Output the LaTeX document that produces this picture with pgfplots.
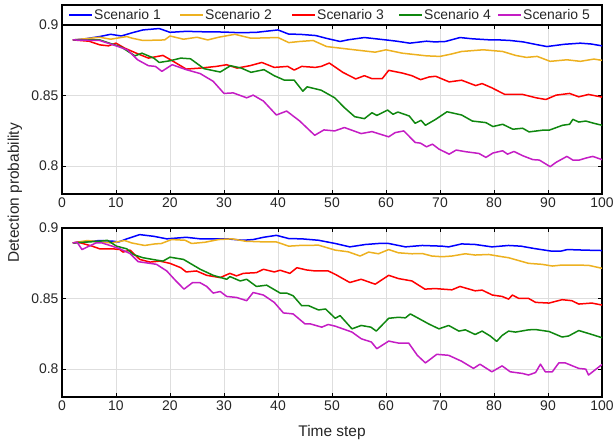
\documentclass[border=0pt]{standalone}
\usepackage{fontspec}
\setmainfont{Liberation Sans}
\usepackage{pgfplots}
\pgfplotsset{compat=1.18}
\definecolor{sOne}{HTML}{0000FF}
\definecolor{sTwo}{HTML}{EDB120}
\definecolor{sThree}{HTML}{FF0000}
\definecolor{sFour}{HTML}{0F870F}
\definecolor{sFive}{HTML}{C41DC4}
\definecolor{tickgray}{HTML}{262626}
\pgfplotsset{
  panel/.style={
    width=540bp, height=169bp, scale only axis,
    xmin=0, xmax=100, ymin=0.78, ymax=0.9,
    xtick={0,10,...,100}, ytick={0.8,0.85,0.9},
    grid=major, major grid style={draw=black!13, line width=0.4bp},
    axis line style={line width=1.3bp},
    tick align=inside, major tick length=4bp,
    tick style={black, line width=0.5bp},
    ticklabel style={font=\fontsize{14}{16}\selectfont, text=tickgray},
    /pgf/number format/assume math mode=true,
    yticklabel style={/pgf/number format/fixed, /pgf/number format/precision=2},
    every axis plot/.append style={line width=1.5bp, mark=none, line join=round},
  }
}
\begin{document}
\begin{tikzpicture}
\useasboundingbox (0,0) rectangle (613bp,-447bp);
% top panel
\begin{axis}[panel, at={(62bp,-194bp)}, anchor=south west]
\addplot[draw=sOne] coordinates {(2,.8894)(4,.8900)(7,.8918)(9,.8934)(11,.8922)(13,.8945)(15,.8965)(18,.8975)(20,.8948)(23,.8955)(26,.8952)(30,.8950)(33,.8945)(36,.8948)(40,.8965)(42,.8935)(44,.8934)(47,.8925)(49,.8905)(51.5,.8883)(53,.8895)(56,.8911)(60,.8894)(62,.8885)(64.4,.8871)(67.5,.8885)(69,.8880)(71,.8883)(73.7,.8911)(76,.8902)(79,.8895)(81,.8894)(83,.8890)(85.4,.8880)(88,.8860)(89.8,.8847)(93,.8863)(96,.8871)(98,.8865)(100,.8852)};
\addplot[draw=sTwo] coordinates {(2,.8894)(5,.8905)(7,.8913)(9,.8899)(12,.8918)(13,.8906)(15,.8890)(19,.8894)(20,.8922)(22.5,.8899)(25,.8913)(27,.8894)(29,.8913)(32,.8934)(35,.8906)(40,.8911)(42,.8875)(44,.8883)(46.5,.8890)(49,.8847)(53,.8829)(58,.8807)(60,.8824)(63,.8800)(67.5,.8781)(70,.8777)(72,.8793)(74,.8812)(78,.8824)(81.6,.8812)(84,.8784)(86,.8770)(88,.8777)(90.4,.8742)(93.5,.8753)(96,.8742)(98.5,.8758)(100,.8749)};
\addplot[draw=sThree] coordinates {(2,.8894)(5,.8885)(7,.8859)(8.6,.8852)(10,.8871)(11.6,.8836)(14,.8796)(16,.8765)(18.7,.8784)(20.6,.8742)(23,.8687)(25.6,.8694)(28.6,.8706)(30.5,.8718)(32.4,.8694)(34.8,.8711)(37,.8734)(39.3,.8699)(41.8,.8706)(43,.8680)(44.4,.8706)(46.9,.8699)(48,.8706)(49.5,.8730)(52,.8664)(54.4,.8617)(56,.8640)(57.4,.8619)(59.3,.8619)(60.5,.8678)(63,.8659)(64.8,.8640)(66.4,.8612)(68,.8631)(69.2,.8636)(71.7,.8596)(74,.8608)(76.6,.8570)(77.8,.8584)(79.6,.8554)(82,.8507)(85.3,.8507)(87.8,.8483)(89.6,.8471)(91.5,.8502)(94,.8514)(95.7,.8490)(97.5,.8507)(100,.8488)};
\addplot[draw=sFour] coordinates {(2,.8894)(7,.8894)(8.8,.8871)(11,.8843)(13.5,.8781)(14.8,.8800)(17,.8765)(18,.8734)(20,.8746)(22,.8765)(23.8,.8760)(26.3,.8690)(29.3,.8666)(31.2,.8711)(33.2,.8694)(35,.8664)(37.4,.8683)(39.3,.8640)(41.2,.8608)(43,.8608)(44.6,.8530)(45.4,.8561)(48,.8537)(50.5,.8483)(52.3,.8413)(54.2,.8349)(56,.8335)(57.4,.8377)(58.3,.8358)(60.3,.8396)(61.3,.8366)(62.2,.8382)(64.3,.8354)(65.4,.8302)(66.5,.8323)(67.3,.8288)(69.2,.8330)(71.3,.8384)(74,.8361)(76,.8318)(78.5,.8307)(79.8,.8279)(81.6,.8295)(83.5,.8260)(85.3,.8267)(86.5,.8241)(89,.8253)(90.2,.8253)(92.7,.8288)(94,.8295)(94.6,.8330)(95.7,.8311)(97,.8318)(98.5,.8302)(100,.8288)};
\addplot[draw=sFive] coordinates {(2,.8894)(7,.8890)(10.4,.8847)(12.1,.8824)(14,.8753)(16,.8711)(17.3,.8706)(18.5,.8671)(20.4,.8718)(23,.8683)(25.6,.8655)(28,.8600)(30,.8514)(31.7,.8518)(34.2,.8483)(35.4,.8502)(37.3,.8460)(39.7,.8361)(41.6,.8389)(44,.8319)(46.8,.8217)(48.5,.8255)(50.5,.8248)(52.3,.8272)(55.4,.8229)(57.4,.8243)(60.5,.8206)(61.7,.8236)(63.3,.8248)(65.4,.8166)(66.4,.8161)(67.5,.8135)(68.6,.8154)(69.8,.8119)(71.7,.8083)(73,.8112)(74.8,.8100)(77.2,.8088)(78.5,.8060)(79.8,.8091)(81.6,.8107)(82.5,.8083)(83.7,.8102)(85.3,.8072)(87.2,.8044)(88.4,.8041)(90.4,.7994)(91.5,.8025)(93.5,.8067)(94.6,.8041)(95.8,.8041)(97,.8055)(98.3,.8067)(100,.8044)};
\end{axis}
% legend box above the top panel
\draw[line width=1.3bp, fill=white] (62bp,-5bp) rectangle (602bp,-25bp);
\foreach \tx/\col/\lab in {94/sOne/Scenario 1, 205/sTwo/Scenario 2, 317/sThree/Scenario 3, 424/sFour/Scenario 4, 523/sFive/Scenario 5}{
  \draw[draw=\col, line width=1.5bp] (\tx bp-25bp,-15bp) -- (\tx bp-2bp,-15bp);
  \node[anchor=west, inner sep=0pt, font=\fontsize{14}{16}\selectfont, text=tickgray] at (\tx bp,-15bp) {\lab};
}
% bottom panel
\begin{axis}[panel, at={(62bp,-397bp)}, anchor=south west]
\addplot[draw=sOne] coordinates {(2,.8894)(7,.8911)(9.5,.8906)(10.5,.8901)(12,.8923)(14.4,.8953)(17,.8941)(19.4,.8923)(23,.8934)(25.6,.8923)(28,.8923)(30.5,.8923)(33.6,.8913)(35.4,.8918)(37.3,.8934)(39.7,.8948)(42,.8925)(44.4,.8923)(47.5,.8913)(50.6,.8890)(53.3,.8866)(56.2,.8883)(58.6,.8890)(60.5,.8890)(63.6,.8866)(66.7,.8876)(70.4,.8871)(71.6,.8866)(74,.8887)(76.5,.8883)(79.6,.8866)(82.7,.8876)(85,.8871)(87.5,.8854)(90.6,.8836)(92.4,.8836)(93.6,.8847)(96.7,.8843)(100,.8840)};
\addplot[draw=sTwo] coordinates {(2,.8894)(4.7,.8911)(9,.8894)(11.6,.8911)(12.9,.8894)(15.3,.8876)(17.2,.8887)(18.4,.8890)(20.3,.8918)(22.8,.8913)(24,.8890)(26.5,.8899)(29,.8918)(31.5,.8923)(34,.8906)(37.7,.8901)(39.7,.8901)(42,.8871)(44,.8876)(47.5,.8878)(50.6,.8843)(53,.8831)(55.2,.8801)(56.8,.8829)(58.6,.8817)(60.5,.8847)(62.3,.8824)(64.8,.8817)(66.7,.8819)(68.5,.8801)(70.4,.8796)(72.2,.8801)(74.7,.8817)(76.5,.8808)(79,.8812)(81.5,.8796)(82.7,.8789)(86.4,.8749)(88.9,.8742)(90.8,.8730)(92.6,.8737)(94.4,.8737)(97.5,.8735)(100,.8714)};
\addplot[draw=sThree] coordinates {(2,.8894)(3,.8899)(5.6,.8871)(7,.8852)(9.5,.8852)(10.7,.8847)(11.3,.8829)(12.6,.8843)(14.4,.8777)(16.3,.8758)(18.1,.8765)(20,.8749)(22,.8718)(23,.8688)(24.9,.8695)(26.8,.8664)(29.3,.8648)(31.1,.8678)(32.3,.8660)(33.6,.8678)(36,.8683)(37.3,.8707)(39.3,.8688)(40.4,.8700)(42.2,.8678)(43.5,.8718)(45.3,.8702)(46.9,.8695)(49.3,.8695)(50.6,.8671)(53.3,.8613)(55.4,.8636)(58,.8601)(60.5,.8664)(62.3,.8641)(64.8,.8624)(67.2,.8566)(69.1,.8570)(72.2,.8561)(73.7,.8585)(76.5,.8554)(77.8,.8559)(79.7,.8524)(81.5,.8514)(82.7,.8495)(83.4,.8524)(84.6,.8500)(86.4,.8500)(87.7,.8472)(90.2,.8467)(92.6,.8491)(94.4,.8484)(95.7,.8460)(98.1,.8467)(100,.8453)};
\addplot[draw=sFour] coordinates {(2,.8894)(7,.8906)(8.4,.8913)(10.1,.8871)(12,.8852)(13.2,.8812)(15,.8789)(17.5,.8772)(18.7,.8765)(20,.8793)(22.5,.8777)(25.6,.8707)(28,.8664)(30.5,.8636)(31.1,.8655)(33,.8624)(34.2,.8636)(36,.8585)(37.9,.8594)(40.4,.8538)(41.6,.8538)(42.8,.8519)(44.4,.8448)(45.7,.8448)(47.5,.8418)(48.8,.8425)(50.6,.8359)(51.5,.8378)(53.7,.8284)(55.4,.8308)(57.2,.8296)(58.2,.8268)(60.5,.8359)(62.3,.8366)(63.6,.8362)(64.5,.8390)(66,.8359)(67.9,.8319)(69.8,.8284)(71.6,.8308)(73.5,.8268)(74.7,.8277)(76.5,.8244)(77.8,.8268)(79.3,.8233)(80.5,.8195)(81.5,.8237)(82.7,.8268)(84,.8261)(86.4,.8277)(87.7,.8279)(90.2,.8265)(92.6,.8226)(93.8,.8233)(95.7,.8272)(98.1,.8244)(100,.8221)};
\addplot[draw=sFive] coordinates {(2,.8894)(2.8,.8899)(3.7,.8847)(5,.8871)(6.3,.8894)(7.4,.8894)(9.3,.8871)(10.7,.8852)(12.6,.8819)(14.1,.8761)(16.3,.8749)(17.5,.8742)(19.4,.8695)(21.1,.8624)(22.6,.8566)(24.2,.8613)(25.5,.8613)(26.8,.8585)(28,.8538)(29.3,.8549)(30.5,.8514)(32.3,.8507)(34.2,.8484)(35.4,.8542)(37.3,.8524)(39.3,.8472)(41,.8397)(42.8,.8390)(45,.8319)(46,.8319)(48.1,.8296)(49.3,.8315)(50.6,.8303)(53.7,.8261)(55.4,.8214)(57.3,.8190)(58.3,.8143)(60.5,.8197)(62.3,.8183)(64.2,.8183)(65.8,.8096)(67.3,.8042)(69.4,.8103)(71.6,.8096)(74,.8054)(76.2,.8003)(77.4,.8033)(79.6,.7979)(81.5,.8021)(83,.7979)(85.3,.7967)(86.4,.7956)(87.7,.7974)(88.6,.8033)(89.5,.7979)(90.8,.7979)(92,.8042)(93.2,.8042)(95.7,.8003)(97,.7998)(97.5,.7956)(100,.8031)};
\end{axis}
\node[rotate=90, font=\fontsize{15.5}{17}\selectfont, text=tickgray] at (15bp,-193bp) {Detection probability};
\node[font=\fontsize{15.5}{17}\selectfont, text=tickgray] at (332bp,-433bp) {Time step};
\end{tikzpicture}
\end{document}
